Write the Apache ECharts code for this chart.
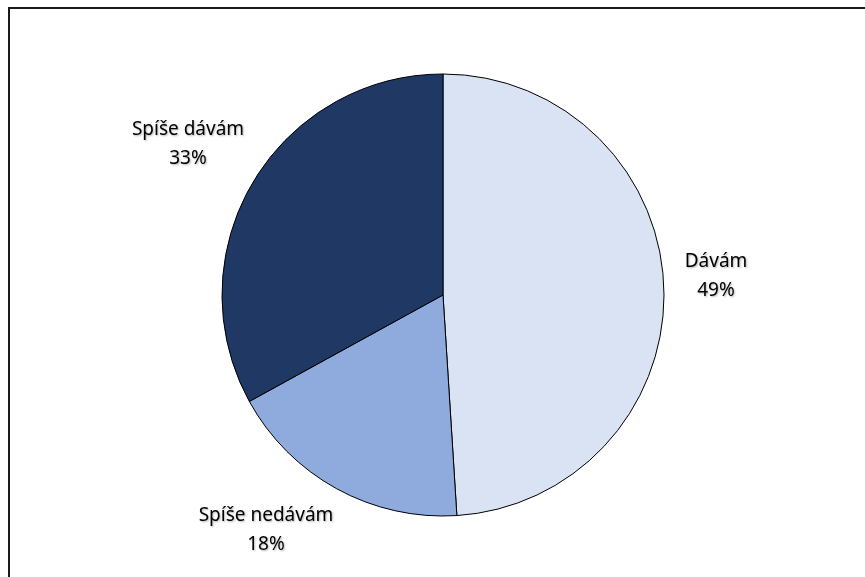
<!DOCTYPE html>
<html>
<head>
<meta charset="utf-8">
<script src="https://cdn.jsdelivr.net/npm/echarts@6/dist/echarts.min.js"></script>
<style>
  html, body { margin: 0; padding: 0; background: #fff; }
  #chart { width: 865px; height: 577px; }
</style>
</head>
<body>
<div id="chart"></div>
<script>
const categories = ['Dávám', 'Spíše nedávám', 'Spíše dávám'];
const values = [49, 18, 33];
const colors = ['#DAE3F3', '#8FAADC', '#203864'];
const labelPositions = [[716, 276], [266, 530], [188, 144]];

const chart = echarts.init(document.getElementById('chart'), null, { renderer: 'canvas' });
chart.setOption({
  backgroundColor: '#ffffff',
  animation: false,
  graphic: [{
    type: 'rect',
    shape: { x: 9, y: 8, width: 900, height: 620 },
    style: { fill: 'none', stroke: '#1a1a1a', lineWidth: 2 },
    z: 10
  }],
  series: [{
    type: 'pie',
    center: [443, 295],
    radius: [0, 221],
    startAngle: 90,
    clockwise: true,
    data: categories.map((c, i) => ({ name: c, value: values[i], itemStyle: { color: colors[i] } })),
    itemStyle: { borderColor: '#000', borderWidth: 1 },
    label: {
      show: true,
      position: 'outside',
      formatter: p => p.name + '\n' + Math.round(p.percent) + '%',
      fontFamily: 'Noto Sans',
      fontSize: 19,
      lineHeight: 29,
      color: '#000',
      align: 'center',
      verticalAlign: 'middle',
      textShadowColor: 'rgba(0,0,0,0.3)',
      textShadowBlur: 2,
      textShadowOffsetX: 1,
      textShadowOffsetY: 1
    },
    labelLine: { show: false },
    labelLayout: p => ({ x: labelPositions[p.dataIndex][0], y: labelPositions[p.dataIndex][1], align: 'center', verticalAlign: 'middle' }),
    emphasis: { disabled: true }
  }]
});
</script>
</body>
</html>
